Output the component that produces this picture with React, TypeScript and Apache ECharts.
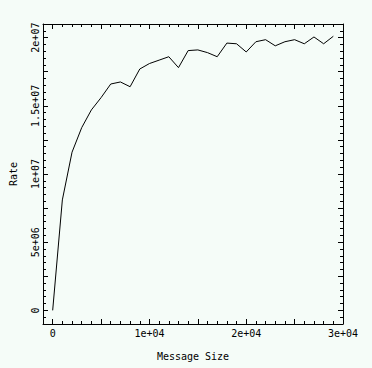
import React, { useEffect, useRef } from "react";
import * as echarts from "echarts";

// Message size (bytes)
const messageSizes: number[] = [
  0, 1000, 2000, 3000, 4000, 5000, 6000, 7000, 8000, 9000,
  10000, 11000, 12000, 13000, 14000, 15000, 16000, 17000, 18000, 19000,
  20000, 21000, 22000, 23000, 24000, 25000, 26000, 27000, 28000, 29000,
];
// Rate
const rates: number[] = [
  0, 8.1e6, 11.6e6, 13.4e6, 14.7e6, 15.6e6, 16.6e6, 16.75e6, 16.4e6, 17.7e6,
  18.1e6, 18.35e6, 18.6e6, 17.8e6, 19.05e6, 19.1e6, 18.9e6, 18.6e6, 19.6e6, 19.55e6,
  18.95e6, 19.7e6, 19.85e6, 19.4e6, 19.7e6, 19.85e6, 19.55e6, 20.05e6, 19.55e6, 20.1e6,
];

const xMajorTicks: number[] = [0, 5000, 10000, 15000, 20000, 25000, 30000];
const xLabelValues: number[] = [0, 10000, 20000, 30000];
const yMajorTicks: number[] = [0, 2.5e6, 5e6, 7.5e6, 1e7, 1.25e7, 1.5e7, 1.75e7, 2e7];
const yLabelValues: number[] = [0, 5e6, 1e7, 1.5e7, 2e7];

const xTitle = "Message Size";
const yTitle = "Rate";

const FONT = "DejaVu Sans Mono";
const BG = "#f5fcf8";

function fmt(v: number): string {
  if (v === 0) return "0";
  const s = v.toExponential();
  return s.replace(/e([+-])(\d)$/, "e$10$2");
}

export default function App() {
  const ref = useRef<HTMLDivElement>(null);
  useEffect(() => {
    if (!ref.current) return;
    const chart = echarts.init(ref.current, undefined, { renderer: "svg" });
    const black = { color: "#000", width: 1 };
    const xBase = { type: "value" as const, min: -1000, max: 30000, splitLine: { show: false } };
    const yBase = { type: "value" as const, min: -1e6, max: 2.1e7, splitLine: { show: false } };
    const labelStyle = { color: "#000", fontFamily: FONT, fontSize: 10 };
    const lineOn = { show: true, onZero: false, lineStyle: black };
    const lineOff = { show: false, onZero: false };
    chart.setOption({
      animation: false,
      backgroundColor: BG,
      grid: { left: 43, right: 29, top: 24, bottom: 44, containLabel: false },
      xAxis: [
        {
          ...xBase, position: "bottom", interval: 1000,
          axisLine: lineOn,
          axisTick: { show: true, inside: true, length: 3, lineStyle: black },
          axisLabel: { show: false },
          name: xTitle, nameLocation: "middle", nameGap: 27,
          nameTextStyle: labelStyle,
        },
        {
          ...xBase, position: "bottom",
          axisLine: lineOff,
          axisTick: { show: true, inside: true, length: 5, lineStyle: black, customValues: xMajorTicks },
          axisLabel: { show: true, margin: 4, customValues: xLabelValues, formatter: fmt, ...labelStyle },
        },
        {
          ...xBase, position: "top", interval: 1000,
          axisLine: lineOn,
          axisTick: { show: true, inside: true, length: 3, lineStyle: black },
          axisLabel: { show: false },
        },
        {
          ...xBase, position: "top",
          axisLine: lineOff,
          axisTick: { show: true, inside: true, length: 5, lineStyle: black, customValues: xMajorTicks },
          axisLabel: { show: false },
        },
      ],
      yAxis: [
        {
          ...yBase, position: "left", interval: 5e5,
          axisLine: lineOn,
          axisTick: { show: true, inside: true, length: 3, lineStyle: black },
          axisLabel: { show: false },
          name: yTitle, nameLocation: "middle", nameGap: 25, nameRotate: 90,
          nameTextStyle: labelStyle,
        },
        {
          ...yBase, position: "left",
          axisLine: lineOff,
          axisTick: { show: true, inside: true, length: 5, lineStyle: black, customValues: yMajorTicks },
          axisLabel: { show: true, rotate: 90, margin: 3, customValues: yLabelValues, formatter: fmt, ...labelStyle },
        },
        {
          ...yBase, position: "right", interval: 5e5,
          axisLine: lineOn,
          axisTick: { show: true, inside: true, length: 3, lineStyle: black },
          axisLabel: { show: false },
        },
        {
          ...yBase, position: "right",
          axisLine: lineOff,
          axisTick: { show: true, inside: true, length: 5, lineStyle: black, customValues: yMajorTicks },
          axisLabel: { show: false },
        },
      ],
      series: [
        {
          type: "line",
          xAxisIndex: 0,
          yAxisIndex: 0,
          data: messageSizes.map((x, i) => [x, rates[i]]),
          showSymbol: false,
          symbol: "none",
          lineStyle: { color: "#000", width: 1 },
        },
      ],
    });
    return () => chart.dispose();
  }, []);
  return (
    <div
      ref={ref}
      style={{ position: "fixed", left: 0, top: 0, width: 372, height: 368, background: BG }}
    />
  );
}
